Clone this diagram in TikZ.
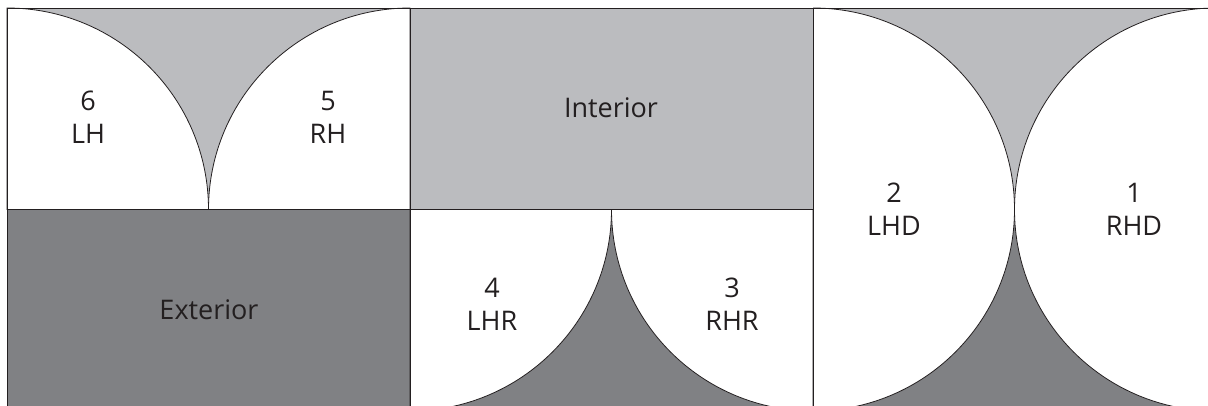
\documentclass[tikz,border=0pt]{standalone}
\usepackage{fontspec}
\setmainfont{Open Sans}
\usetikzlibrary{positioning}

\definecolor{lightfill}{HTML}{BBBCBF}
\definecolor{darkfill}{HTML}{808184}
\definecolor{ink}{HTML}{231F20}

\begin{document}
\begin{tikzpicture}[x=1pt, y=1pt,
    edge/.style={draw=ink, line width=0.8pt},
    cellname/.style={text=ink, align=center, font=\fontsize{27}{33}\selectfont}]
    \useasboundingbox (0,0) rectangle (1208,406);
    \clip (0,0) rectangle (1208,406);

    % Define coordinates for the panel corners
    \coordinate (A) at (7, 196.5);    % left panel, middle left
    \coordinate (B) at (410, 196.5);  % middle panel, middle left
    \coordinate (C) at (813, 196.5);  % right panel, middle left
    \coordinate (D) at (1216, 196.5); % right panel, middle right

    % Left panel: hinged doors over exterior
    \fill[lightfill] (7, 196.5) rectangle (410, 398);
    \fill[darkfill] (7, -10) rectangle (410, 196.5);
    \filldraw[fill=white, edge] (A) -- (208.5, 196.5) arc[start angle=0, end angle=90, radius=201.5] -- cycle;
    \filldraw[fill=white, edge] (B) -- (410, 398) arc[start angle=90, end angle=180, radius=201.5] -- cycle;

    % Middle panel: interior over reverse doors
    \fill[lightfill] (410, 196.5) rectangle (813, 398);
    \fill[darkfill] (410, -10) rectangle (813, 196.5);
    \filldraw[fill=white, edge] (B) -- (611.5, 196.5) arc[start angle=0, end angle=-90, radius=201.5] -- cycle;
    \filldraw[fill=white, edge] (C) -- (611.5, 196.5) arc[start angle=180, end angle=270, radius=201.5] -- cycle;

    % Right panel: double acting doors
    \fill[lightfill] (813, 196.5) rectangle (1216, 398);
    \fill[darkfill] (813, -10) rectangle (1216, 196.5);
    \begin{scope}
        \clip (813, -10) rectangle (1216, 398);
        \filldraw[fill=white, edge] (C) circle[radius=201.5];
        \filldraw[fill=white, edge] (D) circle[radius=201.5];
    \end{scope}

    % Borders
    \draw[edge] (7, -10) -- (7, 398) -- (1216, 398);
    \draw[edge] (A) -- (C);
    \draw[edge] (410, -10) -- (410, 398);
    \draw[edge] (813, -10) -- (813, 398);

    % Labels
    \node[cellname] (lh) at (88, 289) {6\\LH};
    \node[cellname] (rh) at (328, 289) {5\\RH};
    \node[cellname] (ext) at (209, 96) {Exterior};
    \node[cellname] (int) at (611, 298) {Interior};
    \node[cellname] (lhr) at (492, 101.5) {4\\LHR};
    \node[cellname] (rhr) at (732, 101.5) {3\\RHR};
    \node[cellname] (lhd) at (894, 196.5) {2\\LHD};
    \node[cellname] (rhd) at (1134, 196.5) {1\\RHD};
\end{tikzpicture}
\end{document}
